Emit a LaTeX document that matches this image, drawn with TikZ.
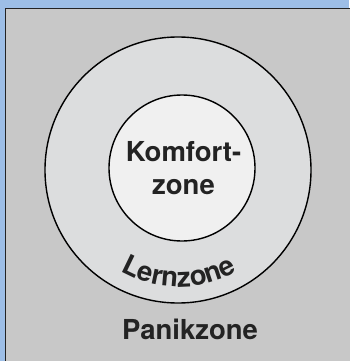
\documentclass[tikz,border=0pt]{standalone}
\usepackage{fontspec}
\setmainfont{TeX Gyre Heros}
\usetikzlibrary{decorations.text}
\definecolor{rahmenblau}{RGB}{157,190,230}
\definecolor{panikgrau}{RGB}{200,200,200}
\definecolor{lerngrau}{RGB}{220,221,222}
\definecolor{komfortgrau}{RGB}{240,240,240}
\definecolor{linie}{RGB}{35,35,35}
\tikzset{zonentext/.style={font=\fontsize{27.5}{33}\selectfont\bfseries, text=linie, align=center}}

\begin{document}
\begin{tikzpicture}[x=1pt,y=-1pt,line width=1.4pt]
\useasboundingbox (0,0) rectangle (349,361);
\fill[rahmenblau] (0,0) rectangle (349,361);
\filldraw[fill=panikgrau,draw=linie] (5.5,8.5) rectangle (360,370);
\filldraw[fill=lerngrau,draw=black] (178,170) circle (133);
\filldraw[fill=komfortgrau,draw=black] (182,168) circle (73);
\node[zonentext] (komfort) at (183.5,168) {Komfort-\\zone};
\node[zonentext,anchor=base] (panik) at (190,339) {Panikzone};
% Lernzone entlang des Bogens
\begin{scope}
\fontsize{27.5}{27.5}\selectfont\bfseries
\path[decorate,decoration={text along path,text align=center,
  text={|\color{linie}|Lernzone}}]
  (179,170) ++(130:117) arc (130:50:117);
\end{scope}
\end{tikzpicture}
\end{document}
